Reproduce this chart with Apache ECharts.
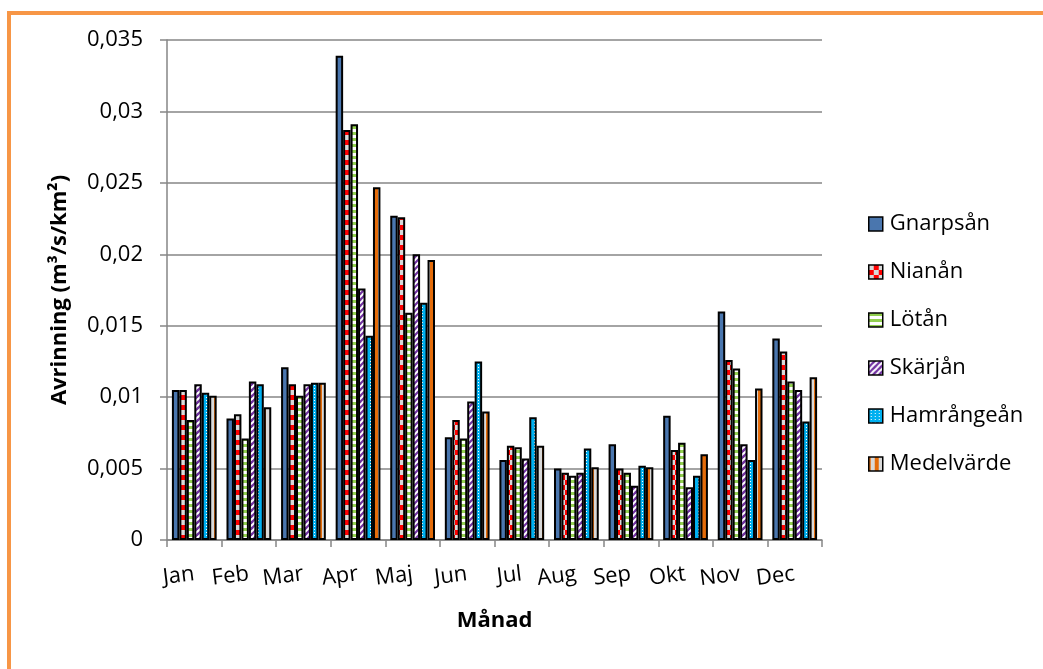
<!DOCTYPE html>
<html>
<head>
<meta charset="utf-8">
<script src="https://cdn.jsdelivr.net/npm/echarts@6/dist/echarts.min.js"></script>
<style>
html,body{margin:0;padding:0;background:#fff;}
#chart{width:1043px;height:669px;}
</style>
</head>
<body>
<div id="chart"></div>
<script>
const months = ['Jan','Feb','Mar','Apr','Maj','Jun','Jul','Aug','Sep','Okt','Nov','Dec'];
const seriesNames = ['Gnarpsån','Nianån','Lötån','Skärjån','Hamrångeån','Medelvärde'];
const gnarpsan   = [0.0105,0.0085,0.0121,0.0339,0.0227,0.0072,0.0056,0.0050,0.0067,0.0087,0.0160,0.0141];
const nianan     = [0.0105,0.0088,0.0109,0.0287,0.0226,0.0084,0.0066,0.0047,0.0050,0.0063,0.0126,0.0132];
const lotan      = [0.0084,0.0071,0.0101,0.0291,0.0159,0.0071,0.0065,0.0045,0.0047,0.0068,0.0120,0.0111];
const skarjan    = [0.0109,0.0111,0.0109,0.0176,0.0200,0.0097,0.0057,0.0047,0.0038,0.0037,0.0067,0.0105];
const hamrangean = [0.0103,0.0109,0.0110,0.0143,0.0166,0.0125,0.0086,0.0064,0.0052,0.0045,0.0056,0.0083];
const medelvarde = [0.0101,0.0093,0.0110,0.0247,0.0196,0.0090,0.0066,0.0051,0.0051,0.0060,0.0106,0.0114];
const yTicks = {min:0, max:0.035, interval:0.005};

function pat(w,h,draw){
  const c=document.createElement('canvas'); c.width=w; c.height=h;
  const g=c.getContext('2d'); draw(g);
  return {image:c, repeat:'repeat'};
}
const RED='#ff0000', GRAY='#d9d9d9', GREEN='#92d050', PURPLE='#7030a0', CYAN='#00b0f0', ORANGE='#e46c0a', BLUE='#4a76ae';
const fills = [
  BLUE,
  pat(10,10,g=>{g.fillStyle=GRAY;g.fillRect(0,0,10,10);g.fillStyle=RED;g.fillRect(5,0,5,5);g.fillRect(0,5,5,5);}),
  pat(1,6,g=>{g.fillStyle='#fff';g.fillRect(0,0,1,6);g.fillStyle=GREEN;g.fillRect(0,0,1,3);}),
  pat(6,6,g=>{g.fillStyle='#fff';g.fillRect(0,0,6,6);g.strokeStyle=PURPLE;g.lineWidth=2.2;
    [[0,6,6,0],[-3,3,3,-3],[3,9,9,3],[-6,6,6,-6],[0,12,12,0]].forEach(l=>{g.beginPath();g.moveTo(l[0],l[1]);g.lineTo(l[2],l[3]);g.stroke();});}),
  pat(4,3,g=>{g.fillStyle=CYAN;g.fillRect(0,0,4,3);g.fillStyle='#fff';g.fillRect(2,1,1,1);}),
  pat(8,1,g=>{g.fillStyle=GRAY;g.fillRect(0,0,8,1);g.fillStyle=ORANGE;g.fillRect(0,0,2,1);g.fillRect(6,0,2,1);})
];
const dataSets=[gnarpsan,nianan,lotan,skarjan,hamrangean,medelvarde];
const FONT='"Open Sans", sans-serif';

const chart=echarts.init(document.getElementById('chart'),null,{renderer:'canvas'});
chart.setOption({
  backgroundColor:'#fff',
  animation:false,
  textStyle:{fontFamily:FONT,color:'#000'},
  graphic:[{type:'rect',shape:{x:9,y:13,width:1100,height:700},style:{fill:'none',stroke:'#f79646',lineWidth:4},z:-1,silent:true}],
  grid:{left:167,right:221,top:40,bottom:129},
  legend:{
    orient:'vertical',left:863,top:208,itemWidth:14,itemHeight:14,itemGap:26,
    icon:'rect',
    textStyle:{fontFamily:FONT,fontSize:22,color:'#000',padding:[0,0,0,2]},
    itemStyle:{borderColor:'#000',borderWidth:1.5},
    data:seriesNames
  },
  xAxis:{
    type:'category',data:months,
    axisLine:{lineStyle:{color:'#868686',width:1.5}},
    axisTick:{show:true,length:7,lineStyle:{color:'#868686',width:1.5}},
    axisLabel:{rotate:7,margin:34,fontSize:22,fontFamily:FONT,color:'#000'},
    name:'Månad',nameLocation:'middle',nameGap:70,
    nameTextStyle:{fontSize:22,fontWeight:'bold',fontFamily:FONT,color:'#000'}
  },
  yAxis:{
    type:'value',min:yTicks.min,max:yTicks.max,interval:yTicks.interval,
    axisLine:{show:true,lineStyle:{color:'#868686',width:1.5}},
    axisTick:{show:true,length:7,lineStyle:{color:'#868686',width:1.5}},
    splitLine:{lineStyle:{color:'#868686',width:1.5}},
    axisLabel:{margin:24,fontSize:22,fontFamily:FONT,color:'#000',
      formatter:v=>String(+v.toFixed(3)).replace('.',',')},
    name:'Avrinning (m³/s/km²)',nameLocation:'middle',nameGap:96,nameRotate:90,
    nameTextStyle:{fontSize:22,fontWeight:'bold',fontFamily:FONT,color:'#000'}
  },
  series:dataSets.map((d,i)=>({
    name:seriesNames[i],type:'bar',data:d,
    barGap:'0%',barCategoryGap:'18%',
    itemStyle:{color:fills[i],borderColor:'#000',borderWidth:2},
    emphasis:{disabled:true}
  }))
});
</script>
</body>
</html>
